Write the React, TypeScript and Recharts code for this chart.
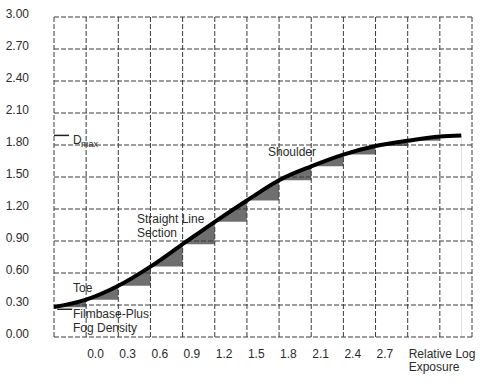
import { Area, CartesianGrid, ComposedChart, Line, ReferenceLine, XAxis, YAxis } from "recharts"

// relative log exposure (x) and measured density (y) along the curve
const exposure = [-0.3, 0, 0.3, 0.6, 0.9, 1.2, 1.5, 1.8, 2.1, 2.4, 2.7, 3.0, 3.3, 3.5]
const density = [0.28, 0.35, 0.48, 0.66, 0.87, 1.08, 1.28, 1.47, 1.6, 1.71, 1.79, 1.84, 1.88, 1.89]

const xTicks = [-0.3, 0, 0.3, 0.6, 0.9, 1.2, 1.5, 1.8, 2.1, 2.4, 2.7, 3.0, 3.3, 3.6]
const xTickLabels = ["", "0.0", "0.3", "0.6", "0.9", "1.2", "1.5", "1.8", "2.1", "2.4", "2.7", "Relative Log|Exposure", "", ""]
const yTicks = [0, 0.3, 0.6, 0.9, 1.2, 1.5, 1.8, 2.1, 2.4, 2.7, 3.0]
const yTickLabels = ["0.00", "0.30", "0.60", "0.90", "1.20", "1.50", "1.80", "2.10", "2.40", "2.70", "3.00"]

const dMax = 1.89
const fogDensity = 0.26

const data = exposure.map((x, i) => ({ x, density: density[i] }))

const font = "'Liberation Sans', Arial, Helvetica, sans-serif"
const ink = "#2b2b2b"

function XTick(props: any) {
  const { x, y, index } = props
  const label = xTickLabels[index] ?? ""
  if (!label) return null
  const lines = label.split("|")
  return (
    <text x={x + 1} y={y + 13} textAnchor="start" fontSize={12} fill={ink} fontFamily={font}>
      {lines.map((l: string, i: number) => (
        <tspan key={i} x={x + 1} dy={i === 0 ? 0 : 13}>
          {l}
        </tspan>
      ))}
    </text>
  )
}

function YTick(props: any) {
  const { y, index } = props
  return (
    <text x={29} y={y - 3} dy="0.35em" textAnchor="end" fontSize={12} fill={ink} fontFamily={font}>
      {yTickLabels[index]}
    </text>
  )
}

export default function App() {
  return (
    <div style={{ position: "absolute", left: 0, top: 0, width: 480, height: 384, background: "#fff" }}>
      <ComposedChart
        width={480}
        height={384}
        data={data}
        margin={{ top: 17, right: 8, bottom: 7, left: 0 }}
        style={{ fontFamily: font }}
      >
        <XAxis
          dataKey="x"
          type="number"
          domain={[-0.3, 3.6]}
          ticks={xTicks}
          interval={0}
          tickLine={false}
          axisLine={false}
          height={40}
          tick={<XTick />}
          allowDataOverflow
        />
        <YAxis
          type="number"
          domain={[0, 3]}
          ticks={yTicks}
          interval={0}
          tickLine={false}
          axisLine={false}
          width={54}
          tick={<YTick />}
        />
        <Area
          dataKey="density"
          type="monotone"
          stroke="none"
          fill="#6f6f6f"
          fillOpacity={1}
          isAnimationActive={false}
        />
        <Area
          dataKey="density"
          type="stepAfter"
          stroke="none"
          fill="#ffffff"
          fillOpacity={1}
          isAnimationActive={false}
        />
        <CartesianGrid stroke="#3a3a3a" strokeDasharray="5 2" zIndex={150} />
        <ReferenceLine
          segment={[{ x: -0.3, y: dMax }, { x: -0.16, y: dMax }]}
          stroke="#222"
          strokeWidth={1.5}
        />
        <ReferenceLine
          segment={[{ x: -0.27, y: fogDensity }, { x: -0.13, y: fogDensity }]}
          stroke="#222"
          strokeWidth={1.5}
        />
        <Line
          dataKey="density"
          type="monotone"
          stroke="#000"
          strokeWidth={4}
          dot={false}
          activeDot={false}
          isAnimationActive={false}
        />
      </ComposedChart>
      <svg
        width={480}
        height={384}
        style={{ position: "absolute", left: 0, top: 0, pointerEvents: "none" }}
        fontFamily={font}
        fill={ink}
        fontSize={12}
      >
        <text x={73} y={144}>D</text>
        <text x={81} y={147} fontSize={9}>max</text>
        <text x={268} y={156}>Shoulder</text>
        <text x={137} y={223}>Straight Line</text>
        <text x={137} y={237}>Section</text>
        <text x={73} y={292}>Toe</text>
        <text x={73} y={318}>Filmbase-Plus</text>
        <text x={73} y={332}>Fog Density</text>
      </svg>
    </div>
  )
}
